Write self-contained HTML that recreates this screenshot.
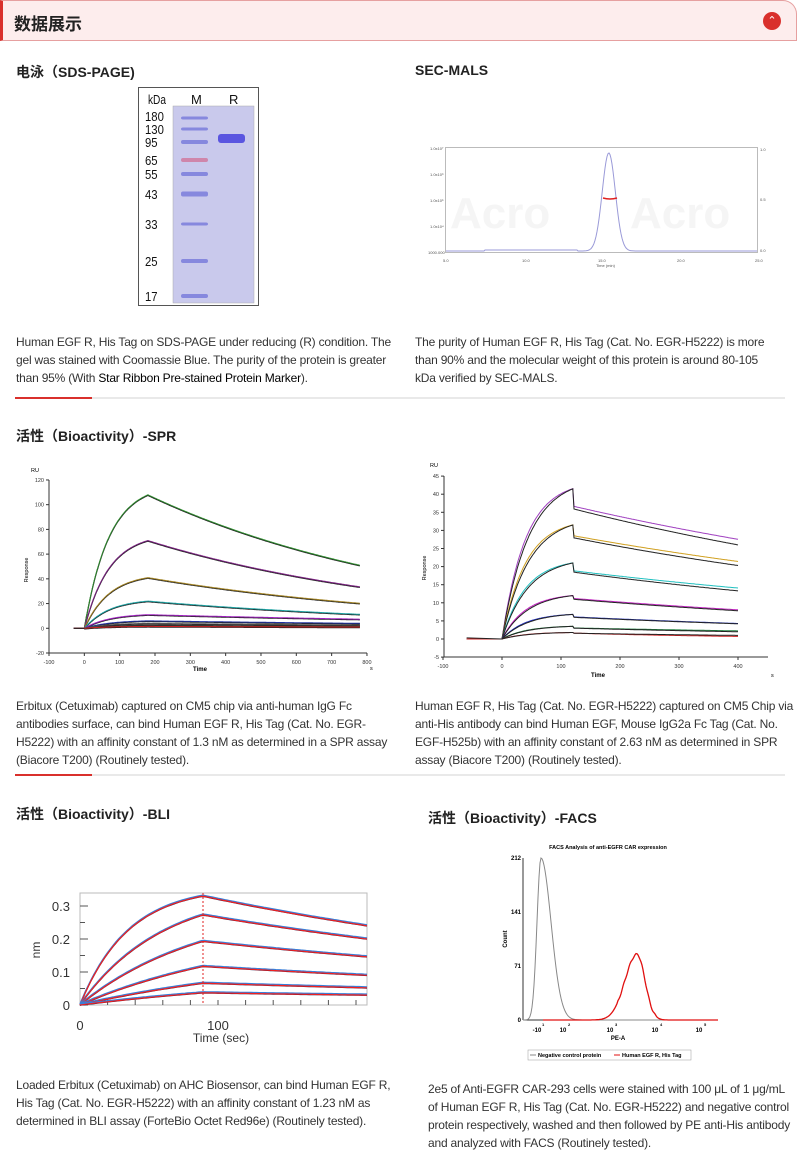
<!DOCTYPE html>
<html><head><meta charset="utf-8">
<style>
body{margin:0;width:800px;height:1164px;position:relative;background:#fff;font-family:"Liberation Sans","Noto Sans CJK SC",sans-serif;overflow:hidden}
.a{position:absolute}
.h{font-weight:bold;font-size:14px;color:#222}
.c{font-size:12px;line-height:18px;color:#333;width:375px;letter-spacing:-0.2px}
svg text{font-family:"Liberation Sans",sans-serif}
</style></head><body>
<div class="a" style="left:0;top:0;width:797px;height:41px;background:#fdeded;border:1px solid #e6a0a0;border-left:3px solid #d9302c;border-radius:0 14px 0 0;box-sizing:border-box"></div>
<div class="a h" style="left:14px;top:10px;font-size:17px">数据展示</div>
<div class="a" style="left:763px;top:12px;width:18px;height:18px;border-radius:50%;background:#d9302c;color:#fff;font-size:11px;text-align:center;line-height:19px">&#8963;</div>

<div class="a h" style="left:16px;top:62px">电泳（SDS-PAGE)</div>
<div class="a h" style="left:415px;top:62px">SEC-MALS</div>
<div class="a c" style="left:16px;top:333px">Human EGF R, His Tag on SDS-PAGE under reducing (R) condition. The gel was stained with Coomassie Blue. The purity of the protein is greater than 95% (With <span style="color:#000">Star Ribbon Pre-stained Protein Marker</span>).</div>
<div class="a c" style="left:415px;top:333px;width:366px">The purity of Human EGF R, His Tag (Cat. No. EGR-H5222) is more than 90% and the molecular weight of this protein is around 80-105 kDa verified by SEC-MALS.</div>

<div class="a h" style="left:16px;top:426px">活性（Bioactivity）-SPR</div>
<div class="a c" style="left:16px;top:697px">Erbitux (Cetuximab) captured on CM5 chip via anti-human IgG Fc antibodies surface, can bind Human EGF R, His Tag (Cat. No. EGR-H5222) with an affinity constant of 1.3 nM as determined in a SPR assay (Biacore T200) (Routinely tested).</div>
<div class="a c" style="left:415px;top:697px;width:382px">Human EGF R, His Tag (Cat. No. EGR-H5222) captured on CM5 Chip via anti-His antibody can bind Human EGF, Mouse IgG2a Fc Tag (Cat. No. EGF-H525b) with an affinity constant of 2.63 nM as determined in SPR assay (Biacore T200) (Routinely tested).</div>

<div class="a h" style="left:16px;top:804px">活性（Bioactivity）-BLI</div>
<div class="a h" style="left:428px;top:808px">活性（Bioactivity）-FACS</div>
<div class="a c" style="left:16px;top:1076px">Loaded Erbitux (Cetuximab) on AHC Biosensor, can bind Human EGF R, His Tag (Cat. No. EGR-H5222) with an affinity constant of 1.23 nM as determined in BLI assay (ForteBio Octet Red96e) (Routinely tested).</div>
<div class="a c" style="left:428px;top:1080px;width:368px">2e5 of Anti-EGFR CAR-293 cells were stained with 100 μL of 1 μg/mL of Human EGF R, His Tag (Cat. No. EGR-H5222) and negative control protein respectively, washed and then followed by PE anti-His antibody and analyzed with FACS (Routinely tested).</div>

<svg id="s" class="a" style="left:0;top:0" width="800" height="1164" xmlns="http://www.w3.org/2000/svg">
<g stroke="#e2e2e2" stroke-width="1.5"><line x1="15" y1="398" x2="785" y2="398"/><line x1="15" y1="775" x2="785" y2="775"/></g>
<g stroke="#d9302c" stroke-width="2"><line x1="15" y1="398" x2="92" y2="398"/><line x1="15" y1="775" x2="92" y2="775"/></g>
<rect x="138.5" y="87.5" width="120" height="218" fill="#fff" stroke="#555"/>
<rect x="173" y="106" width="81" height="197" fill="#c9c9ec" stroke="#aaa" stroke-width="0.5"/>
<g font-size="13" fill="#111">
<text x="148" y="104" textLength="18" lengthAdjust="spacingAndGlyphs">kDa</text><text x="191" y="104">M</text><text x="229" y="104">R</text>
</g>
<g id="gel"></g>
<rect x="445.5" y="147.5" width="312" height="105" fill="#fff" stroke="#bbb"/>
<g fill="#f5f5f5" font-size="44" font-weight="bold"><text x="450" y="228">Acro</text><text x="630" y="228">Acro</text></g>
<path id="sec" fill="none" stroke="#9a9ad8" stroke-width="1"/>
<path d="M603,198 Q610,200 617,198" stroke="#e02020" stroke-width="1.5" fill="none"/>
<g font-size="4" fill="#555"><text x="430" y="150">1.0x10⁷</text><text x="430" y="176">1.0x10⁶</text><text x="430" y="202">1.0x10⁵</text><text x="430" y="228">1.0x10⁴</text><text x="428" y="254">1000.000</text>
<text x="443" y="262">5.0</text><text x="522" y="262">10.0</text><text x="598" y="262">15.0</text><text x="677" y="262">20.0</text><text x="755" y="262">25.0</text><text x="596" y="267">Time (min)</text>
<text x="760" y="151">1.0</text><text x="760" y="201">0.5</text><text x="760" y="252">0.0</text></g>
<g id="spr1"></g><g id="spr2"></g><g id="bli"></g><g id="facs"></g>
</svg>
<script>
const NS="http://www.w3.org/2000/svg";
function el(p,t,a,txt){const e=document.createElementNS(NS,t);for(const k in a)e.setAttribute(k,a[k]);if(txt!==undefined)e.textContent=txt;document.getElementById(p).appendChild(e);return e}
[[118,'180',3],[129,'130',3],[142,'95',4],[160,'65',4],[174,'55',4],[194,'43',5],[224,'33',3],[261,'25',4],[296,'17',4]].forEach(([y,l,h])=>{
 el('gel','rect',{x:181,y:y-h/2,width:27,height:h,rx:2,fill:l=='65'?'#d07aa0':'#7a7ddc',opacity:.85});
 const o={x:145,y:y+5,'font-size':13,fill:'#111',textLength:l.length*6.3,lengthAdjust:'spacingAndGlyphs'};if(l=='180')o.y=y+3;
 el('gel','text',o,l);});
el('gel','rect',{x:218,y:134,width:27,height:9,rx:3,fill:'#5a55e0'});
(function(){let d='';for(let x=446;x<=757;x++){let t=5+(x-445)*20/312;let y=251-98*Math.exp(-Math.pow((t-15.5)/0.42,2)/2)-(Math.abs(t-10.5)<3?1:0);d+=(d?'L':'M')+x+','+y.toFixed(1)}document.getElementById('sec').setAttribute('d',d)})();
function axes(id,x0,x1,y0,y1,xt,yt,fs){el(id,'line',{x1:x0,y1:y0,x2:x0,y2:y1,stroke:'#333','stroke-width':1});el(id,'line',{x1:x0,y1:y1,x2:x1,y2:y1,stroke:'#333','stroke-width':1});
 xt.forEach(([x,l])=>{el(id,'line',{x1:x,y1:y1,x2:x,y2:y1+3,stroke:'#333'});el(id,'text',{x:x,y:y1+11,'font-size':fs,'text-anchor':'middle',fill:'#333'},l)});
 yt.forEach(([y,l])=>{el(id,'line',{x1:x0-3,y1:y,x2:x0,y2:y,stroke:'#333'});el(id,'text',{x:x0-5,y:y+2,'font-size':fs,'text-anchor':'end',fill:'#333'},l)});}
function curve(id,f,t0,t1,X,Y,c,w){let d='';for(let t=t0;t<=t1;t+=2){d+=(d?'L':'M')+X(t).toFixed(1)+','+Y(f(t)).toFixed(1)}el(id,'path',{d:d,fill:'none',stroke:c,'stroke-width':w||1})}
(function(){const X=t=>49+(t+100)*0.3533,Y=v=>653-(v+20)*1.236;
 let xt=[],yt=[];for(let t=-100;t<=800;t+=100)xt.push([X(t),t]);for(let v=-20;v<=120;v+=20)yt.push([Y(v),v]);
 axes('spr1',49,367,480,653,xt,yt,5.5);
 el('spr1','text',{x:31,y:472,'font-size':5.5},'RU');el('spr1','text',{x:200,y:671,'font-size':6,'font-weight':'bold','text-anchor':'middle'},'Time');el('spr1','text',{x:370,y:670,'font-size':5.5},'s');
 el('spr1','text',{x:28,y:570,'font-size':5.5,transform:'rotate(-90 28 570)','text-anchor':'middle'},'Response');
 const R=[[108,'#2e8b2e'],[71,'#7a2080'],[41,'#a08020'],[22,'#1aa0a0'],[11,'#a020c0'],[6,'#2030a0'],[4,'#555'],[2.5,'#333'],[1.5,'#d02020']];
 R.forEach(([m,c])=>{const Rm=m/(1-Math.exp(-180/70));const f=t=>t<0?0:t<180?Rm*(1-Math.exp(-t/70)):m*Math.exp(-(t-180)/(m>50?800:m>30?850:m>15?900:1500));
  curve('spr1',t=>f(t)-0.5,0,780,X,Y,'#222',1.2);curve('spr1',f,-30,780,X,Y,c,1);});
 el('spr1','path',{d:`M${X(-30)},${Y(0)}L${X(0)},${Y(0)}`,stroke:'#222'});})();
(function(){const X=t=>502+0.59*t,Y=v=>639-3.62*v;
 let xt=[],yt=[];for(let t=-100;t<=400;t+=100)xt.push([X(t),t]);for(let v=-5;v<=45;v+=5)yt.push([Y(v),v]);
 axes('spr2',444,768,476,657,xt,yt,5.5);
 el('spr2','text',{x:430,y:467,'font-size':5.5},'RU');el('spr2','text',{x:598,y:677,'font-size':6,'font-weight':'bold','text-anchor':'middle'},'Time');el('spr2','text',{x:771,y:677,'font-size':5.5},'s');
 el('spr2','text',{x:426,y:568,'font-size':5.5,transform:'rotate(-90 426 568)','text-anchor':'middle'},'Response');
 const R=[[41.5,36,27,26,'#a040c0'],[31.5,28,21,20.3,'#d0a020'],[21,18.5,13.8,13.3,'#20c0c0'],[12,11,7.9,7.8,'#c020c0'],[6.8,6,4.2,4.2,'#2030c0'],[3.5,3,2.2,2,'#208040'],[1.8,1.6,0.7,1,'#d02020']];
 R.forEach(([m,d0,e,e2,c])=>{const Rm=m/(1-Math.exp(-120/45));
  const f=t=>t<0?0:t<=120?Rm*(1-Math.exp(-t/40))*0.98:d0*1.02*Math.pow(e/d0,(t-120)/280);
  const g=t=>t<0?0:t<=120?Rm*(1-Math.exp(-t/45)):d0*Math.pow(e2/d0,(t-120)/280);
  curve('spr2',f,-60,400,X,Y,c,1);curve('spr2',g,0,400,X,Y,'#222',1);});
 el('spr2','path',{d:`M${X(-60)},${Y(0.3)}L${X(0)},${Y(0)}`,stroke:'#222'});})();
(function(){const X=t=>80+t*1.38,Y=v=>1005-v*330;
 el('bli','rect',{x:80,y:893,width:287,height:112,fill:'none',stroke:'#bbb'});
 [[0,'0'],[0.1,'0.1'],[0.2,'0.2'],[0.3,'0.3']].forEach(([v,l])=>{el('bli','text',{x:70,y:Y(v)+5,'font-size':13,'text-anchor':'end',fill:'#333'},l);el('bli','line',{x1:80,y1:Y(v),x2:88,y2:Y(v),stroke:'#555'})});
 [0.05,0.15,0.25].forEach(v=>el('bli','line',{x1:80,y1:Y(v),x2:85,y2:Y(v),stroke:'#555'}));
 for(let t=20;t<208;t+=20)el('bli','line',{x1:X(t),y1:1005,x2:X(t),y2:1000,stroke:'#555'});
 el('bli','text',{x:80,y:1030,'font-size':13,'text-anchor':'middle',fill:'#333'},'0');el('bli','text',{x:218,y:1030,'font-size':13,'text-anchor':'middle',fill:'#333'},'100');
 el('bli','text',{x:221,y:1042,'font-size':12,'text-anchor':'middle',fill:'#333'},'Time (sec)');
 el('bli','text',{x:40,y:950,'font-size':12,fill:'#333',transform:'rotate(-90 40 950)','text-anchor':'middle'},'nm');
 const R=[[0.33,0.24,35],[0.273,0.2,60],[0.193,0.146,90],[0.117,0.09,130],[0.066,0.052,170],[0.037,0.03,200]];
 R.forEach(([m,e,tau])=>{const Rm=m/(1-Math.exp(-89/tau));const f=t=>t<=89?Rm*(1-Math.exp(-t/tau)):m*Math.pow(e/m,(t-89)/119);
  curve('bli',t=>f(t)+0.003,0,208,X,Y,'#3a7fd8',1.4);curve('bli',t=>f(t)-0.001,0,208,X,Y,'#1a1a4a',1);curve('bli',f,0,208,X,Y,'#f02020',1.2);});
 el('bli','line',{x1:203,y1:893,x2:203,y2:1005,stroke:'#e02020','stroke-dasharray':'2,2'});})();
(function(){const x0=523,x1=718,y0=858,y1=1020;
 el('facs','text',{x:608,y:849,'font-size':5.5,'font-weight':'bold','text-anchor':'middle'},'FACS Analysis of anti-EGFR CAR expression');
 el('facs','line',{x1:x0,y1:y0,x2:x0,y2:y1,stroke:'#333'});el('facs','line',{x1:x0,y1:y1,x2:x1,y2:y1,stroke:'#333'});
 [[858,'212'],[912,'141'],[966,'71'],[1020,'0']].forEach(([y,l])=>{el('facs','text',{x:x0-2,y:y+2,'font-size':6,'text-anchor':'end','font-weight':'bold'},l)});
 [[537,'-10'],[563,'10'],[610,'10'],[655,'10'],[699,'10']].forEach(([x,l],i)=>{el('facs','text',{x:x,y:1032,'font-size':6,'text-anchor':'middle','font-weight':'bold'},l);el('facs','text',{x:x+5,y:1026,'font-size':4,'font-weight':'bold'},i+1)});
 el('facs','text',{x:618,y:1040,'font-size':6,'font-weight':'bold','text-anchor':'middle'},'PE-A');
 el('facs','text',{x:507,y:939,'font-size':6,'font-weight':'bold',transform:'rotate(-90 507 939)','text-anchor':'middle'},'Count');
 let d='';for(let x=x0;x<=x1;x++){let v=x<541?212*Math.exp(-Math.pow((x-541)/4,2)/2):212*Math.exp(-Math.pow((x-541)/10,2)/2);d+=(d?'L':'M')+x+','+(y1-v*0.764).toFixed(1)}el('facs','path',{d:d,fill:'none',stroke:'#888'});
 d='';for(let x=x0+20;x<=x1;x++){let v=86*Math.exp(-Math.pow((x-637)/(x<637?12:8),2)/2)+Math.sin(x)*1.2*(Math.abs(x-637)<20);d+=(d?'L':'M')+x+','+(y1-Math.max(0,v)*0.764).toFixed(1)}el('facs','path',{d:d,fill:'none',stroke:'#e01010','stroke-width':1.3});
 el('facs','rect',{x:528,y:1050,width:163,height:10,fill:'#fff',stroke:'#999','stroke-width':.5});
 el('facs','line',{x1:530,y1:1055,x2:536,y2:1055,stroke:'#888'});el('facs','text',{x:538,y:1057,'font-size':5.5,'font-weight':'bold'},'Negative control protein');
 el('facs','line',{x1:614,y1:1055,x2:620,y2:1055,stroke:'#e01010'});el('facs','text',{x:622,y:1057,'font-size':5.5,'font-weight':'bold'},'Human EGF R, His Tag');})();
</script>
</body></html>
